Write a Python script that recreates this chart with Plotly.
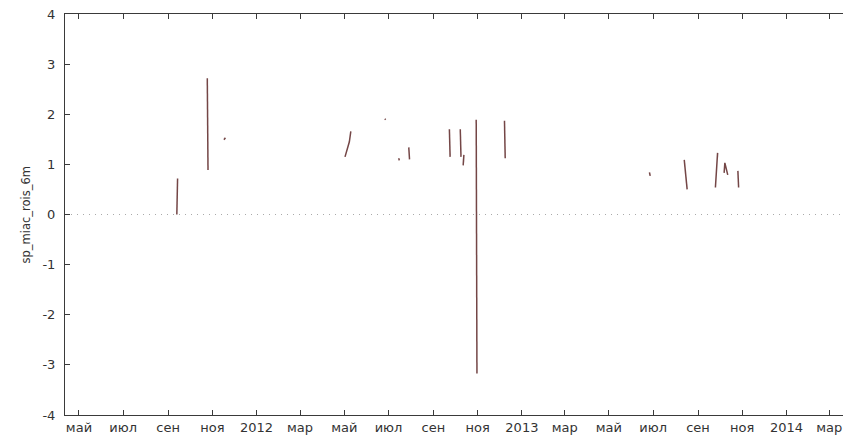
import plotly.graph_objects as go

# Segments (None separates unconnected pieces)
dates = [
    "2011-09-13", "2011-09-14", None,
    "2011-10-25", "2011-10-26", None,
    "2011-11-17", "2011-11-19", None,
    "2012-05-02", "2012-05-08", "2012-05-10", None,
    "2012-06-26", "2012-06-27", None,
    "2012-07-15", "2012-07-16", None,
    "2012-07-29", "2012-07-30", None,
    "2012-09-23", "2012-09-24", None,
    "2012-10-08", "2012-10-09", None,
    "2012-10-12", "2012-10-13", None,
    "2012-10-30", "2012-10-31", None,
    "2012-12-08", "2012-12-09", None,
    "2013-06-26", "2013-06-27", None,
    "2013-08-13", "2013-08-17", None,
    "2013-09-25", "2013-09-28", None,
    "2013-10-07", "2013-10-08", "2013-10-12", None,
    "2013-10-26", "2013-10-27",
]
values = [
    0.00, 0.72, None,
    2.72, 0.89, None,
    1.49, 1.53, None,
    1.15, 1.45, 1.66, None,
    1.91, 1.89, None,
    1.12, 1.08, None,
    1.34, 1.10, None,
    1.70, 1.15, None,
    1.70, 1.15, None,
    0.98, 1.19, None,
    1.89, -3.17, None,
    1.87, 1.12, None,
    0.84, 0.77, None,
    1.09, 0.50, None,
    0.54, 1.23, None,
    0.83, 1.03, 0.79, None,
    0.87, 0.54,
]

tick_dates = ["2011-05-01", "2011-07-01", "2011-09-01", "2011-11-01", "2012-01-01",
              "2012-03-01", "2012-05-01", "2012-07-01", "2012-09-01", "2012-11-01",
              "2013-01-01", "2013-03-01", "2013-05-01", "2013-07-01", "2013-09-01",
              "2013-11-01", "2014-01-01", "2014-03-01"]
tick_labels = ["май", "июл", "сен", "ноя", "2012", "мар", "май", "июл", "сен", "ноя",
               "2013", "мар", "май", "июл", "сен", "ноя", "2014", "мар"]
y_ticks = [-4, -3, -2, -1, 0, 1, 2, 3, 4]
y_labels = ["-4", "-3", "-2", "-1", "0", "1", "2", "3", "4"]
y_title = "sp_miac_rois_6m"

fig = go.Figure()
fig.add_trace(go.Scatter(
    x=dates, y=values, mode="lines", connectgaps=False,
    line=dict(color="#744646", width=1.5), showlegend=False, hoverinfo="skip",
))

fig.add_shape(type="line", xref="paper", yref="y", x0=0, x1=1, y0=0, y1=0,
              line=dict(color="#aaaaaa", width=1, dash="1px,5px"), layer="below")

fig.add_annotation(text=y_title, xref="paper", yref="paper", x=0, y=0.5,
                   xanchor="center", yanchor="middle", xshift=-40, textangle=-90,
                   showarrow=False, font=dict(family="DejaVu Sans", size=11.5, color="#333333"))

axis_col = "#3a3a3a"
fig.update_layout(
    width=843, height=439,
    margin=dict(l=65, r=0, t=14, b=24),
    paper_bgcolor="white", plot_bgcolor="white",
    font=dict(family="DejaVu Sans", size=13, color="#333333"),
    xaxis=dict(
        type="date", range=["2011-04-11 17:00", "2014-03-20"],
        tickvals=tick_dates, ticktext=tick_labels, tickangle=0,
        ticks="inside", ticklen=5, tickwidth=1, tickcolor=axis_col,
        showline=True, linecolor=axis_col, linewidth=1, mirror="ticks",
        showgrid=False, zeroline=False,
    ),
    yaxis=dict(
        range=[-4, 4], tickvals=y_ticks, ticktext=y_labels,
        ticks="inside", ticklen=5, tickwidth=1, tickcolor=axis_col,
        showline=True, linecolor=axis_col, linewidth=1, mirror=False,
        showgrid=False, zeroline=False, ticklabelstandoff=6,
    ),
)

fig.write_html("out.html")
